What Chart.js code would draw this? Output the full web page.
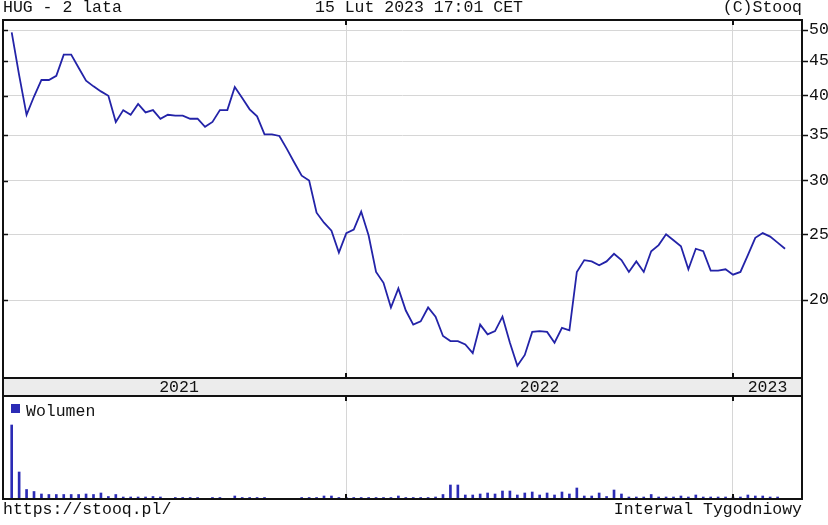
<!DOCTYPE html>
<html>
<head>
<meta charset="utf-8">
<script src="https://cdn.jsdelivr.net/npm/chart.js@4.4.1/dist/chart.umd.min.js"></script>
<style>
body { margin: 0; background: #fff; }
#wrap { position: relative; width: 828px; height: 525px; font-family: 'Liberation Mono', monospace; font-size: 16.5px; color: #111; }
canvas { position: absolute; left: 0; top: 0; }
.t { position: absolute; white-space: pre; line-height: 18px; }
</style>
</head>
<body>
<div id="wrap">
  <canvas id="price" width="828" height="525"></canvas>
  <canvas id="vol" width="828" height="525"></canvas>
  <div class="t" style="left:3px;top:-1px">HUG - 2 lata</div>
  <div class="t" style="left:315px;top:-1px">15 Lut 2023 17:01 CET</div>
  <div class="t" style="right:26px;top:-1px">(C)Stooq</div>
  <div class="t" style="left:3px;top:501px">https://stooq.pl/</div>
  <div class="t" style="right:26px;top:501px">Interwal Tygodniowy</div>
</div>
<script>
// weekly closes, from mid Feb 2021 to 15 Feb 2023 (index = week)
const closes = [
  49.6, 42.9, 37.5, 39.9, 42.2, 42.2, 42.8, 46.0, 46.0, 44.0,
  42.1, 41.3, 40.6, 40.0, 36.6, 38.1, 37.5, 38.9, 37.8, 38.1,
  37.0, 37.5, 37.4, 37.4, 37.0, 37.0, 36.0, 36.6, 38.1, 38.1,
  41.2, 39.7, 38.2, 37.3, 35.1, 35.1, 34.9, 33.4, 31.9, 30.5,
  30.0, 26.9, 26.0, 25.3, 23.5, 25.1, 25.4, 27.0, 24.9, 22.0,
  21.2, 19.5, 20.8, 19.3, 18.4, 18.6, 19.5, 18.9, 17.7, 17.4,
  17.4, 17.2, 16.7, 18.4, 17.8, 18.0, 18.9, 17.3, 16.0, 16.6,
  17.95, 18.0, 17.95, 17.3, 18.2, 18.05, 22.0, 22.9, 22.8, 22.5,
  22.8, 23.4, 22.9, 22.0, 22.8, 22.0, 23.6, 24.1, 25.0, 24.5,
  24.0, 22.2, 23.8, 23.6, 22.1, 22.1, 22.2, 21.8, 22.0, 23.3,
  24.7, 25.1, 24.8, 24.3, 23.8
];
// weekly volume, relative units
const volumes = [
  74, 27, 9.5, 7.5, 5, 4.5, 4.5, 4.5, 4.5, 4.5,
  5, 4.5, 6, 2.5, 4.5, 2, 2, 2, 2, 2.5,
  2, 0, 1.5, 1.5, 1.5, 1.5, 0, 1.5, 1.5, 0,
  3, 1.5, 1.5, 1.5, 1.5, 0, 0, 0, 0, 1.5,
  1.5, 1.5, 3, 3, 1.5, 1.5, 1.5, 1.5, 1.5, 1.5,
  1.5, 1.5, 3, 1.5, 1.5, 1.5, 1.5, 2, 4.5, 14,
  14, 4, 4, 5, 6, 5, 8, 8, 4, 6,
  7, 4, 6, 4, 7, 5, 11, 3, 3, 6,
  2.5, 9, 5, 2, 2, 2, 4.5, 2, 2, 2,
  3, 2, 4, 2, 2, 2, 2, 2, 2, 4,
  3, 3, 2, 2, 0
];
const yearLabels = ['2021', '2022', '2023'];
const yearStarts = [45, 97];   // week index where 2022 and 2023 begin
const priceTicks = [20, 25, 30, 35, 40, 45, 50];

const font = "'Liberation Mono', monospace";
const lineBlue = '#2323a8';
const barBlue = '#2b2bb5';
const gridGrey = '#d6d6d6';
const xMin = -1.17, xMax = 106.28;

const xAxis = () => ({
  type: 'linear',
  min: xMin,
  max: xMax,
  offset: false,
  afterBuildTicks: s => { s.ticks = yearStarts.map(v => ({value: v})); },
  ticks: {display: false},
  grid: {color: gridGrey, drawTicks: false, lineWidth: 1, offset: false},
  border: {display: false},
  afterFit: s => { s.height = 0; }
});

const framePlugin = {
  id: 'frame',
  afterDraw(chart) {
    const ctx = chart.ctx;
    const ca = chart.chartArea;
    const xs = chart.scales.x;
    ctx.save();
    ctx.strokeStyle = '#111';
    ctx.lineWidth = 2;
    ctx.strokeRect(ca.left, ca.top, ca.right - ca.left, ca.bottom - ca.top);
    // small marks at year boundaries
    yearStarts.forEach(v => {
      const px = Math.round(xs.getPixelForValue(v));
      ctx.beginPath();
      ctx.moveTo(px, ca.top); ctx.lineTo(px, ca.top + 5);
      ctx.moveTo(px, ca.bottom); ctx.lineTo(px, ca.bottom - 5);
      ctx.stroke();
    });
    ctx.restore();
  }
};

const priceExtras = {
  id: 'priceExtras',
  afterDraw(chart) {
    const ctx = chart.ctx;
    const ca = chart.chartArea;
    const xs = chart.scales.x;
    const ys = chart.scales.y;
    ctx.save();
    // inner left ticks at price levels
    ctx.strokeStyle = '#111';
    ctx.lineWidth = 1.5;
    priceTicks.forEach(v => {
      const py = Math.round(ys.getPixelForValue(v)) + 0.5;
      ctx.beginPath();
      ctx.moveTo(ca.left, py); ctx.lineTo(ca.left + 5, py);
      ctx.stroke();
    });
    // year band under the chart
    const top = ca.bottom, bot = ca.bottom + 18;
    ctx.fillStyle = '#ececec';
    ctx.fillRect(ca.left, top, ca.right - ca.left, bot - top);
    ctx.lineWidth = 2;
    ctx.strokeRect(ca.left, top, ca.right - ca.left, bot - top);
    const edges = [xs.getPixelForValue(0)].concat(yearStarts.map(v => xs.getPixelForValue(v)), [ca.right]);
    ctx.fillStyle = '#111';
    ctx.font = '16.5px ' + font;
    ctx.textAlign = 'center';
    ctx.textBaseline = 'alphabetic';
    yearLabels.forEach((lab, i) => {
      ctx.fillText(lab, (edges[i] + edges[i + 1]) / 2, bot - 4);
    });
    yearStarts.forEach(v => {
      const px = Math.round(xs.getPixelForValue(v));
      ctx.beginPath();
      ctx.moveTo(px, bot); ctx.lineTo(px, bot + 5);
      ctx.stroke();
    });
    ctx.restore();
  }
};

const volLegend = {
  id: 'volLegend',
  afterDraw(chart) {
    const ctx = chart.ctx;
    const ca = chart.chartArea;
    const ds = chart.data.datasets[0];
    ctx.save();
    ctx.fillStyle = ds.backgroundColor;
    ctx.fillRect(ca.left + 8, ca.top + 8, 9, 9);
    ctx.fillStyle = '#111';
    ctx.font = '16.5px ' + font;
    ctx.textBaseline = 'alphabetic';
    ctx.fillText(ds.label, ca.left + 23, ca.top + 20);
    ctx.restore();
  }
};

new Chart(document.getElementById('price'), {
  type: 'line',
  data: {
    datasets: [{
      data: closes.map((v, i) => ({x: i, y: v})),
      borderColor: lineBlue,
      borderWidth: 1.8,
      pointRadius: 0,
      tension: 0
    }]
  },
  options: {
    responsive: false,
    animation: false,
    layout: {padding: {left: 3, top: 20, right: 0, bottom: 147}},
    plugins: {legend: {display: false}, tooltip: {enabled: false}},
    scales: {
      x: xAxis(),
      y: {
        type: 'logarithmic',
        position: 'right',
        min: 15.35,
        max: 51.73,
        afterBuildTicks: s => { s.ticks = priceTicks.map(v => ({value: v})); },
        ticks: {
          font: {family: font, size: 16.5},
          color: '#111',
          padding: 1,
          callback: v => String(v)
        },
        grid: {color: gridGrey, tickColor: '#111', tickLength: 6, tickWidth: 1.5},
        border: {display: false},
        afterFit: s => { s.width = 26; }
      }
    }
  },
  plugins: [framePlugin, priceExtras]
});

new Chart(document.getElementById('vol'), {
  type: 'bar',
  data: {
    datasets: [{
      label: 'Wolumen',
      data: volumes.map((v, i) => ({x: i, y: v || null})),
      backgroundColor: barBlue,
      barThickness: 2
    }]
  },
  options: {
    responsive: false,
    animation: false,
    layout: {padding: {left: 3, top: 396, right: 0, bottom: 26}},
    plugins: {legend: {display: false}, tooltip: {enabled: false}},
    scales: {
      x: xAxis(),
      y: {
        position: 'right',
        min: 0,
        max: 103,
        ticks: {display: false},
        grid: {display: false},
        border: {display: false},
        afterFit: s => { s.width = 26; }
      }
    }
  },
  plugins: [framePlugin, volLegend]
});
</script>
</body>
</html>
